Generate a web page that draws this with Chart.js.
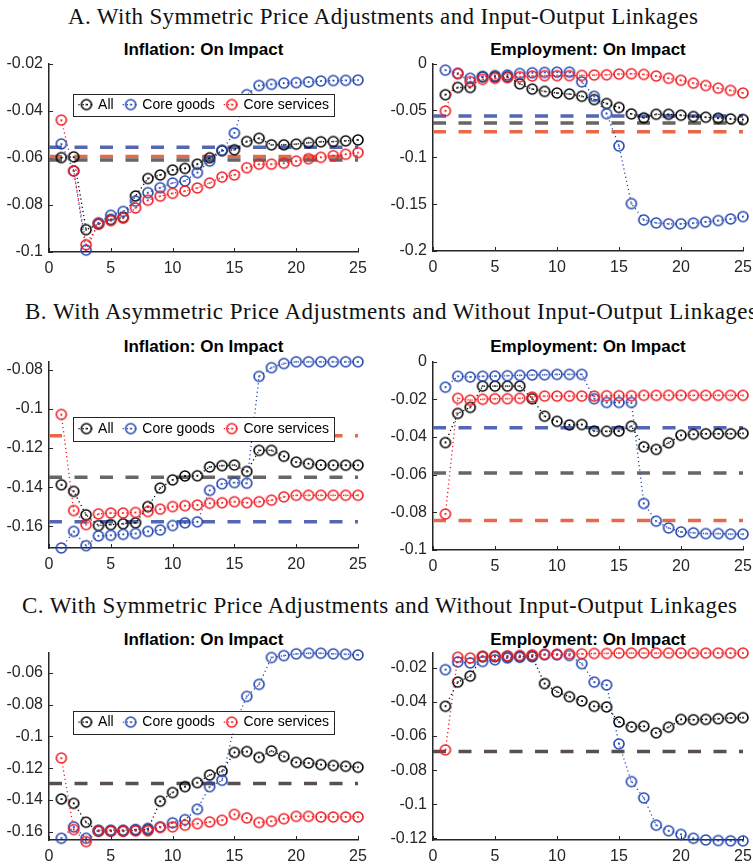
<!DOCTYPE html>
<html lang="en">
<head>
<meta charset="UTF-8" />
<title>Inflation and Employment: On Impact</title>
<script src="https://cdn.jsdelivr.net/npm/chart.js"></script>
<style>
  html, body { margin: 0; padding: 0; background: #fff; }
  body { width: 753px; height: 866px; position: relative; overflow: hidden; font-family: "Liberation Sans", Arial, sans-serif; }
  .section { position: absolute; font-family: "Liberation Serif", "Times New Roman", serif; font-size: 23px; line-height: 23px; white-space: nowrap; color: #111; }
  .ptitle { position: absolute; font-weight: bold; font-size: 17px; line-height: 17px; white-space: nowrap; color: #000; transform: translateX(-50%); z-index: 0; }
  canvas { position: absolute; z-index: 1; }
</style>
</head>
<body>
<div class="section" style="left:68px;top:4.8px" data-w="630">A. With Symmetric Price Adjustments and Input-Output Linkages</div>
<div class="section" style="left:25px;top:299.8px" data-w="732">B. With Asymmetric Price Adjustments and Without Input-Output Linkages</div>
<div class="section" style="left:22px;top:593.8px" data-w="715">C. With Symmetric Price Adjustments and Without Input-Output Linkages</div>

<script>
  const periods = [1,2,3,4,5,6,7,8,9,10,11,12,13,14,15,16,17,18,19,20,21,22,23,24,25];
  const xTicks = [0, 5, 10, 15, 20, 25];
  const seriesNames = ['All', 'Core goods', 'Core services'];

  // A. symmetric, with input-output linkages
  const infAllA   = [-0.0599,-0.0596,-0.0905,-0.0881,-0.0862,-0.0853,-0.0762,-0.0688,-0.0673,-0.0652,-0.0645,-0.0627,-0.0600,-0.0570,-0.0566,-0.0531,-0.0517,-0.0545,-0.0545,-0.0542,-0.0536,-0.0532,-0.0531,-0.0528,-0.0524];
  const infGoodsA = [-0.0541,-0.0656,-0.0992,-0.0876,-0.0844,-0.0828,-0.0784,-0.0748,-0.0727,-0.0707,-0.0698,-0.0663,-0.0614,-0.0568,-0.0495,-0.0332,-0.0293,-0.0288,-0.0283,-0.0281,-0.0278,-0.0274,-0.0272,-0.0271,-0.0270];
  const infServA  = [-0.0440,-0.0656,-0.0969,-0.0882,-0.0867,-0.0856,-0.0813,-0.0780,-0.0763,-0.0751,-0.0741,-0.0728,-0.0707,-0.0682,-0.0673,-0.0642,-0.0627,-0.0627,-0.0623,-0.0614,-0.0604,-0.0598,-0.0591,-0.0585,-0.0578];
  const empAllA   = [-0.0332,-0.0255,-0.0255,-0.0140,-0.0140,-0.0140,-0.0216,-0.0272,-0.0297,-0.0314,-0.0325,-0.0349,-0.0384,-0.0426,-0.0468,-0.0537,-0.0579,-0.0541,-0.0541,-0.0551,-0.0565,-0.0572,-0.0583,-0.0590,-0.0597];
  const empGoodsA = [-0.0070,-0.0105,-0.0157,-0.0140,-0.0129,-0.0122,-0.0105,-0.0098,-0.0094,-0.0091,-0.0091,-0.0195,-0.0349,-0.0534,-0.0880,-0.1494,-0.1668,-0.1700,-0.1710,-0.1710,-0.1703,-0.1689,-0.1675,-0.1658,-0.1633];
  const empServA  = [-0.0506,-0.0105,-0.0192,-0.0168,-0.0157,-0.0150,-0.0140,-0.0133,-0.0129,-0.0129,-0.0129,-0.0126,-0.0122,-0.0119,-0.0112,-0.0108,-0.0115,-0.0133,-0.0157,-0.0178,-0.0209,-0.0234,-0.0262,-0.0286,-0.0314];
  const infRefA = [-0.0609, -0.0555, -0.0594];   // all, goods, services
  const empRefA = [-0.0635, -0.0558, -0.0726];
  const infTicksA = [-0.1, -0.08, -0.06, -0.04, -0.02];
  const empTicksA = [-0.2, -0.15, -0.1, -0.05, 0];

  // B. asymmetric, without input-output linkages
  const infAllB   = [-0.1388,-0.1422,-0.1542,-0.1597,-0.1592,-0.1588,-0.1583,-0.1500,-0.1405,-0.1363,-0.1343,-0.1342,-0.1297,-0.1290,-0.1287,-0.1320,-0.1212,-0.1212,-0.1242,-0.1272,-0.1280,-0.1287,-0.1288,-0.1288,-0.1288];
  const infGoodsB = [-0.1712,-0.1627,-0.1700,-0.1650,-0.1647,-0.1642,-0.1638,-0.1627,-0.1620,-0.1597,-0.1583,-0.1578,-0.1417,-0.1383,-0.1377,-0.1380,-0.0833,-0.0788,-0.0767,-0.0758,-0.0758,-0.0758,-0.0758,-0.0758,-0.0758];
  const infServB  = [-0.1028,-0.1520,-0.1592,-0.1537,-0.1533,-0.1533,-0.1530,-0.1525,-0.1513,-0.1500,-0.1495,-0.1492,-0.1483,-0.1480,-0.1475,-0.1480,-0.1475,-0.1467,-0.1450,-0.1442,-0.1442,-0.1442,-0.1442,-0.1442,-0.1442];
  const empAllB   = [-0.0430,-0.0275,-0.0243,-0.0130,-0.0130,-0.0130,-0.0130,-0.0197,-0.0290,-0.0317,-0.0336,-0.0334,-0.0369,-0.0370,-0.0369,-0.0343,-0.0452,-0.0466,-0.0431,-0.0391,-0.0386,-0.0383,-0.0383,-0.0383,-0.0381];
  const empGoodsB = [-0.0136,-0.0078,-0.0082,-0.0078,-0.0077,-0.0075,-0.0073,-0.0071,-0.0070,-0.0068,-0.0068,-0.0068,-0.0197,-0.0217,-0.0217,-0.0217,-0.0753,-0.0847,-0.0883,-0.0904,-0.0909,-0.0913,-0.0913,-0.0916,-0.0916];
  const empServB  = [-0.0809,-0.0195,-0.0205,-0.0200,-0.0197,-0.0197,-0.0195,-0.0188,-0.0183,-0.0183,-0.0183,-0.0183,-0.0183,-0.0181,-0.0181,-0.0181,-0.0179,-0.0179,-0.0179,-0.0179,-0.0179,-0.0179,-0.0179,-0.0179,-0.0179];
  const infRefB = [-0.1350, -0.1578, -0.1137];
  const empRefB = [-0.0591, -0.0351, -0.0843];
  const infTicksB = [-0.16, -0.14, -0.12, -0.1, -0.08];
  const empTicksB = [-0.1, -0.08, -0.06, -0.04, -0.02, 0];

  // C. symmetric, without input-output linkages
  const infAllC   = [-0.1394,-0.1421,-0.1540,-0.1596,-0.1596,-0.1596,-0.1590,-0.1586,-0.1408,-0.1353,-0.1316,-0.1291,-0.1243,-0.1219,-0.1101,-0.1095,-0.1132,-0.1091,-0.1126,-0.1163,-0.1167,-0.1177,-0.1183,-0.1188,-0.1194];
  const infGoodsC = [-0.1641,-0.1569,-0.1641,-0.1590,-0.1590,-0.1590,-0.1586,-0.1579,-0.1569,-0.1544,-0.1524,-0.1458,-0.1316,-0.1276,-0.0930,-0.0748,-0.0672,-0.0503,-0.0491,-0.0480,-0.0476,-0.0476,-0.0480,-0.0482,-0.0487];
  const infServC  = [-0.1136,-0.1586,-0.1662,-0.1596,-0.1596,-0.1596,-0.1594,-0.1594,-0.1573,-0.1569,-0.1559,-0.1549,-0.1538,-0.1528,-0.1491,-0.1513,-0.1542,-0.1534,-0.1518,-0.1503,-0.1503,-0.1507,-0.1507,-0.1507,-0.1507];
  const empAllC   = [-0.0425,-0.0283,-0.0248,-0.0133,-0.0133,-0.0133,-0.0133,-0.0133,-0.0292,-0.0340,-0.0369,-0.0394,-0.0425,-0.0429,-0.0517,-0.0546,-0.0542,-0.0581,-0.0548,-0.0502,-0.0504,-0.0502,-0.0498,-0.0494,-0.0492];
  const empGoodsC = [-0.0210,-0.0165,-0.0171,-0.0162,-0.0152,-0.0142,-0.0137,-0.0129,-0.0123,-0.0123,-0.0127,-0.0175,-0.0283,-0.0300,-0.0646,-0.0867,-0.0963,-0.1123,-0.1156,-0.1177,-0.1200,-0.1210,-0.1213,-0.1215,-0.1215];
  const empServC  = [-0.0681,-0.0137,-0.0142,-0.0133,-0.0129,-0.0129,-0.0127,-0.0123,-0.0119,-0.0119,-0.0117,-0.0117,-0.0115,-0.0115,-0.0113,-0.0113,-0.0113,-0.0113,-0.0113,-0.0113,-0.0113,-0.0113,-0.0113,-0.0113,-0.0113];
  const infRefC = [-0.1297];
  const empRefC = [-0.0690];
  const infTicksC = [-0.16, -0.14, -0.12, -0.1, -0.08, -0.06];
  const empTicksC = [-0.12, -0.1, -0.08, -0.06, -0.04, -0.02];

  // styles
  const lineColors = ['#000000', '#2446b0', '#f01c22'];
  const refColors3 = ['#666666', '#5566b2', '#e8694a'];
  const refColorsC = ['#5b4f4d'];
  const axisColor = '#262626';

  function marker(color) {
    const c = document.createElement('canvas');
    c.width = c.height = 14;
    const g = c.getContext('2d');
    g.strokeStyle = color;
    g.lineWidth = 1.6;
    g.beginPath(); g.arc(7, 7, 5, 0, 2 * Math.PI); g.stroke();
    g.fillStyle = color;
    g.beginPath(); g.arc(7, 7, 0.9, 0, 2 * Math.PI); g.fill();
    return c;
  }
  const markers = lineColors.map(marker);

  // plot boxes: [left, top, right, bottom] in page pixels
  const panels = [
    { title: 'Inflation: On Impact', box: [49, 60, 358, 252], y: [-0.1, -0.02], ticks: infTicksA,
      series: [infAllA, infGoodsA, infServA], refs: infRefA, refColors: refColors3, legend: { dx: 24, dy: 30, h: 22 }, titleBase: 55.7 },
    { title: 'Employment: On Impact', box: [433, 60, 743, 251], y: [-0.2, 0], ticks: empTicksA,
      series: [empAllA, empGoodsA, empServA], refs: empRefA, refColors: refColors3, titleBase: 55.7 },
    { title: 'Inflation: On Impact', box: [49, 358, 358, 548], y: [-0.1712, -0.0757], ticks: infTicksB,
      series: [infAllB, infGoodsB, infServB], refs: infRefB, refColors: refColors3, legend: { dx: 24, dy: 55, h: 24 }, titleBase: 352.3 },
    { title: 'Employment: On Impact', box: [433, 358, 743, 550], y: [-0.1, 0], ticks: empTicksB,
      series: [empAllB, empGoodsB, empServB], refs: empRefB, refColors: refColors3, titleBase: 352.3 },
    { title: 'Inflation: On Impact', box: [49, 649, 358, 840], y: [-0.1652, -0.0472], ticks: infTicksC,
      series: [infAllC, infGoodsC, infServC], refs: infRefC, refColors: refColorsC, legend: { dx: 24, dy: 58, h: 23 }, titleBase: 645 },
    { title: 'Employment: On Impact', box: [433, 649, 743, 840], y: [-0.121, -0.011], ticks: empTicksC,
      series: [empAllC, empGoodsC, empServC], refs: empRefC, refColors: refColorsC, titleBase: 645 }
  ];

  const fmt = v => String(parseFloat(Number(v).toFixed(4)));

  const innerTicks = {
    id: 'innerTicks',
    beforeDatasetsDraw(chart) {
      const { ctx, chartArea: a, scales: { x, y } } = chart;
      ctx.save();
      ctx.strokeStyle = axisColor;
      ctx.lineWidth = 1;
      ctx.beginPath();
      x.ticks.forEach(t => {
        const px = Math.round(x.getPixelForValue(t.value)) + 0.5;
        ctx.moveTo(px, a.bottom); ctx.lineTo(px, a.bottom - 4);
      });
      y.ticks.forEach(t => {
        const py = Math.round(y.getPixelForValue(t.value)) + 0.5;
        ctx.moveTo(a.left, py); ctx.lineTo(a.left + 4, py);
      });
      ctx.stroke();
      ctx.restore();
    }
  };

  // boxed legend inside the axes, like MATLAB's
  const boxLegend = {
    id: 'boxLegend',
    afterDatasetsDraw(chart, args, opts) {
      if (!opts || !opts.h) return;
      const ctx = chart.ctx, a = chart.chartArea;
      const x0 = a.left + opts.dx, y0 = a.top + opts.dy, h = opts.h;
      ctx.save();
      ctx.font = '14px "Liberation Sans", Arial, sans-serif';
      const items = chart.data.datasets.filter(d => d.label).sort((p, q) => p.idx - q.idx);
      const pos = [];
      let x = x0 + 13.4;
      items.forEach(d => {
        const tx = x + 11.7;
        const tw = ctx.measureText(d.label).width;
        pos.push({ mx: x, tx, tw, d });
        x = tx + tw + 17;
      });
      const last = pos[pos.length - 1];
      const w = last.tx + last.tw + 5 - x0;
      ctx.fillStyle = '#fff';
      ctx.fillRect(x0, y0, w, h);
      ctx.strokeStyle = axisColor;
      ctx.lineWidth = 1;
      ctx.strokeRect(Math.round(x0) + 0.5, Math.round(y0) + 0.5, Math.round(w), h);
      const cy = y0 + h / 2;
      pos.forEach(p => {
        ctx.strokeStyle = p.d.borderColor;
        ctx.lineWidth = 1.3;
        ctx.setLineDash([1.2, 3]);
        ctx.beginPath(); ctx.moveTo(p.mx - 8, cy); ctx.lineTo(p.mx + 8, cy); ctx.stroke();
        ctx.setLineDash([]);
        ctx.drawImage(p.d.pointStyle, p.mx - 7, cy - 7);
        ctx.fillStyle = '#000';
        ctx.textBaseline = 'middle';
        ctx.fillText(p.d.label, p.tx, cy + 0.5);
      });
      ctx.restore();
    }
  };

  function makeChart(p) {
    const padL = 48, padT = 12, padR = 16, padB = 26;
    const [l, t, r, b] = p.box;
    const w = r - l + padL + padR, h = b - t + padT + padB;

    const title = document.createElement('div');
    title.className = 'ptitle';
    title.textContent = p.title;
    title.style.left = ((l + r) / 2) + 'px';
    title.style.top = (p.titleBase - 14.4) + 'px';
    document.body.appendChild(title);

    const canvas = document.createElement('canvas');
    canvas.width = w; canvas.height = h;
    canvas.style.left = (l - padL) + 'px';
    canvas.style.top = (t - padT) + 'px';
    canvas.style.width = w + 'px';
    canvas.style.height = h + 'px';
    document.body.appendChild(canvas);

    const datasets = [];
    p.refs.forEach((v, i) => datasets.push({
      data: [{ x: 0, y: v }, { x: 25, y: v }],
      borderColor: p.refColors[i], borderWidth: 3.5, borderDash: [13, 12.5],
      pointRadius: 0, order: 10 + i, clip: false
    }));
    p.series.forEach((vals, i) => datasets.push({
      label: seriesNames[i], idx: i,
      data: periods.map((x, k) => ({ x, y: vals[k] })),
      borderColor: lineColors[i], borderWidth: 1.3, borderDash: [1.2, 3],
      pointStyle: markers[i], pointRadius: 6, order: 3 - i, clip: false
    }));

    const tickFont = { size: 16, family: '"Liberation Sans", Arial, sans-serif' };

    new Chart(canvas, {
      type: 'line',
      data: { datasets },
      options: {
        responsive: false,
        animation: false,
        devicePixelRatio: 1,
        layout: { padding: { left: 0, top: padT, right: padR, bottom: 0 } },
        plugins: {
          legend: { display: false },
          tooltip: { enabled: false },
          boxLegend: p.legend || {}
        },
        scales: {
          x: {
            type: 'linear', min: 0, max: 25, bounds: 'data',
            afterBuildTicks: s => { s.ticks = xTicks.map(v => ({ value: v })); },
            afterFit: s => { s.height = padB; },
            grid: { display: false, drawTicks: false },
            border: { color: axisColor, width: 1.5 },
            ticks: { padding: 7, color: axisColor, font: tickFont, maxRotation: 0, autoSkip: false }
          },
          y: {
            type: 'linear', min: p.y[0], max: p.y[1], bounds: 'data',
            afterBuildTicks: s => { s.ticks = p.ticks.map(v => ({ value: v })); },
            afterFit: s => { s.width = padL; },
            grid: { display: false, drawTicks: false },
            border: { color: axisColor, width: 1.5 },
            ticks: { padding: 6, color: axisColor, font: tickFont, callback: v => fmt(v), autoSkip: false }
          }
        }
      },
      plugins: [innerTicks, boxLegend]
    });
  }

  panels.forEach(makeChart);

  // stretch section headings to the width they have in the figure
  document.querySelectorAll('.section').forEach(el => {
    const target = +el.dataset.w;
    const n = el.textContent.length;
    const w = el.getBoundingClientRect().width;
    el.style.letterSpacing = ((target - w) / (n - 1)) + 'px';
  });
</script>
</body>
</html>
